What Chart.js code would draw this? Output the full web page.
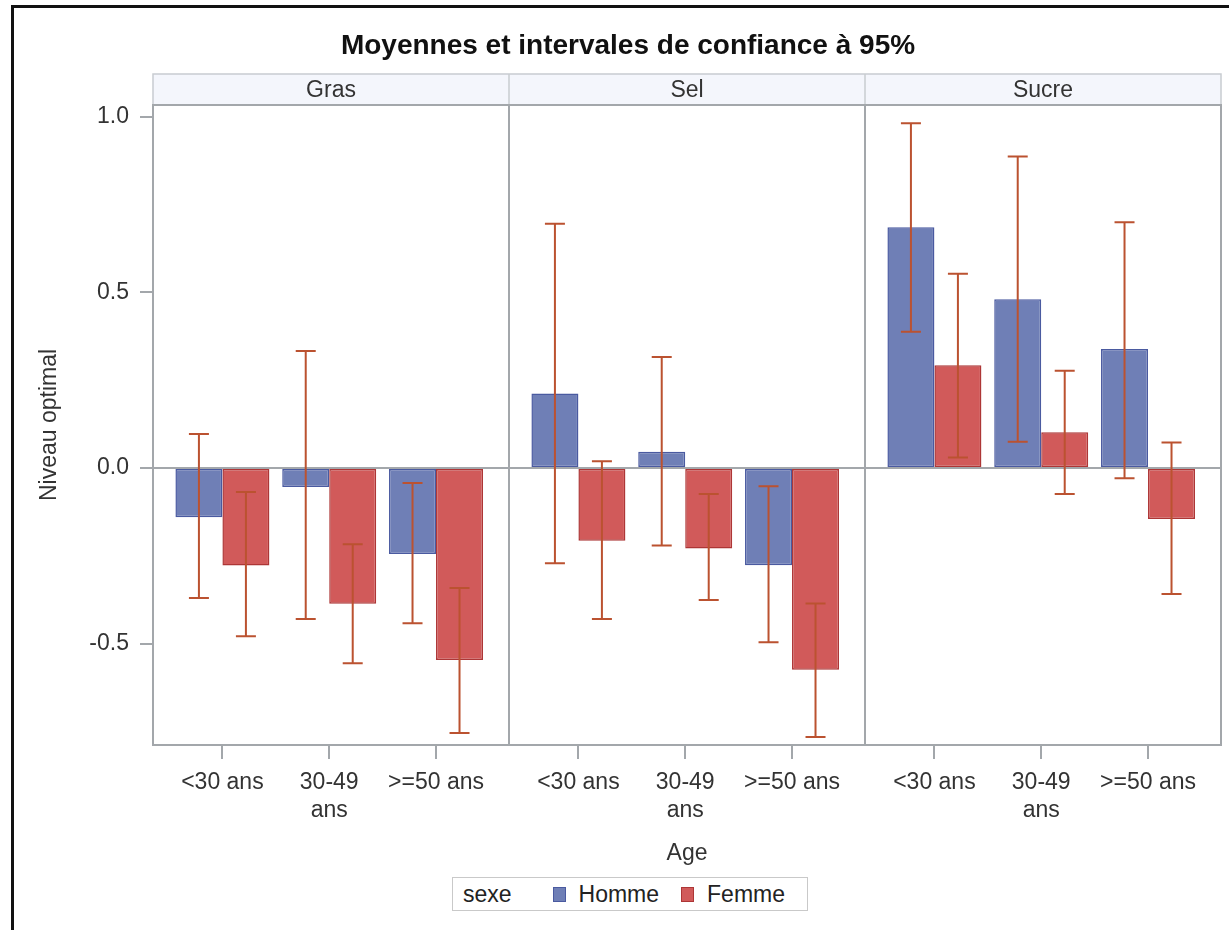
<!DOCTYPE html>
<html lang="fr">
<head>
<meta charset="utf-8">
<title>Moyennes et intervales de confiance à 95%</title>
<script src="https://cdn.jsdelivr.net/npm/chart.js@4.4.1/dist/chart.umd.min.js"></script>
<style>
  html, body { margin: 0; padding: 0; background: #fff; }
  #wrap { position: relative; width: 1229px; height: 930px; overflow: hidden; }
  #frame { position: absolute; left: 11px; top: 5px; width: 1300px; height: 1000px;
           border-left: 3px solid #111; border-top: 3px solid #111; box-sizing: border-box; }
  canvas { position: absolute; left: 0; top: 0; }
  #legend { position: absolute; left: 452px; top: 877px; height: 34px; width: 356px;
            box-sizing: border-box; border: 1px solid #c9c9c9; background: #fff;
            display: flex; align-items: center; font-family: "Liberation Sans", Arial, sans-serif;
            font-size: 23px; color: #222; }
  #legend .title { margin-left: 10px; margin-right: 41px; }
  #legend .sw { width: 15px; height: 15px; box-sizing: border-box; border: 1.5px solid; margin-right: 13px; }
  #legend .lbl { margin-right: 22px; }
</style>
</head>
<body>
<div id="wrap">
  <div id="frame"></div>
  <canvas id="chart" width="1229" height="930"></canvas>
  <div id="legend"></div>
</div>
<script>
// Panels (nutrient) and age groups
const panels = ['Gras', 'Sel', 'Sucre'];
const ageGroups = ['<30 ans', '30-49 ans', '>=50 ans'];
const ageTickLines = [['<30 ans'], ['30-49', 'ans'], ['>=50 ans']];
const yTicks = [-0.5, 0.0, 0.5, 1.0];

// Means and 95% confidence limits, ordered Gras(3 ages), Sel(3), Sucre(3)
const hommeMoyenne = [-0.140, -0.054, -0.245, 0.212, 0.046, -0.277, 0.686, 0.481, 0.339];
const hommeBasse   = [-0.370, -0.430, -0.442, -0.271, -0.221, -0.496, 0.388, 0.075, -0.029];
const hommeHaute   = [0.097, 0.333, -0.043, 0.696, 0.316, -0.052, 0.982, 0.887, 0.700];
const femmeMoyenne = [-0.278, -0.387, -0.547, -0.207, -0.229, -0.575, 0.293, 0.102, -0.145];
const femmeBasse   = [-0.479, -0.556, -0.755, -0.430, -0.376, -0.766, 0.030, -0.074, -0.359];
const femmeHaute   = [-0.068, -0.217, -0.342, 0.019, -0.074, -0.386, 0.553, 0.277, 0.073];

const FONT = '"Liberation Sans", Arial, sans-serif';
const TEXT = '#333333';
const AXIS_GRAY = '#a3a7ab';

// Each panel occupies one unit of the x scale; age groups sit at 0.2, 0.5, 0.8 inside it
const slotOf = (p, k) => p + 0.195 + 0.3 * k;
const positions = [];
panels.forEach((_, p) => ageGroups.forEach((_, k) => positions.push(slotOf(p, k))));
const toPoints = vals => vals.map((v, i) => ({ x: positions[i], y: v }));

const series = [
  { label: 'Homme', values: hommeMoyenne, low: hommeBasse, high: hommeHaute, fill: '#6f7fb6', line: '#4a5aa0' },
  { label: 'Femme', values: femmeMoyenne, low: femmeBasse, high: femmeHaute, fill: '#d15a5a', line: '#ad3636' }
];

// Confidence-interval whiskers drawn over the bars
const errorBars = {
  id: 'errorBars',
  afterDatasetsDraw(chart) {
    const ctx = chart.ctx, y = chart.scales.y;
    ctx.save();
    ctx.strokeStyle = '#bb5230';
    ctx.lineWidth = 2;
    series.forEach((s, d) => {
      chart.getDatasetMeta(d).data.forEach((bar, i) => {
        const top = y.getPixelForValue(s.high[i]);
        const bot = y.getPixelForValue(s.low[i]);
        ctx.beginPath();
        ctx.moveTo(bar.x, top); ctx.lineTo(bar.x, bot);
        ctx.moveTo(bar.x - 10, top); ctx.lineTo(bar.x + 10, top);
        ctx.moveTo(bar.x - 10, bot); ctx.lineTo(bar.x + 10, bot);
        ctx.stroke();
      });
    });
    ctx.restore();
  }
};

// Panel frame, separators, header strips and the chart title
const panelDecor = {
  id: 'panelDecor',
  afterDraw(chart) {
    const ctx = chart.ctx, a = chart.chartArea, x = chart.scales.x;
    ctx.save();
    // header strips
    const stripTop = a.top - 31;
    ctx.fillStyle = '#f4f6fc';
    ctx.fillRect(a.left, stripTop, a.right - a.left, a.top - stripTop);
    ctx.strokeStyle = '#c8ccd1';
    ctx.lineWidth = 1.5;
    ctx.strokeRect(a.left, stripTop, a.right - a.left, a.top - stripTop);
    ctx.font = '23px ' + FONT;
    ctx.fillStyle = TEXT;
    ctx.textAlign = 'center';
    ctx.textBaseline = 'middle';
    panels.forEach((name, p) => {
      const l = x.getPixelForValue(p), r = x.getPixelForValue(p + 1);
      if (p > 0) {
        ctx.beginPath(); ctx.moveTo(l, stripTop); ctx.lineTo(l, a.top); ctx.stroke();
      }
      ctx.fillText(name, (l + r) / 2, (stripTop + a.top) / 2 + 1);
    });
    // plot frame and panel separators
    ctx.strokeStyle = AXIS_GRAY;
    ctx.lineWidth = 2;
    ctx.strokeRect(a.left, a.top, a.right - a.left, a.bottom - a.top);
    for (let p = 1; p < panels.length; p++) {
      const px = x.getPixelForValue(p);
      ctx.beginPath(); ctx.moveTo(px, a.top); ctx.lineTo(px, a.bottom); ctx.stroke();
    }
    // title
    ctx.font = 'bold 28px ' + FONT;
    ctx.fillStyle = '#111';
    ctx.fillText('Moyennes et intervales de confiance à 95%', 628, 46);
    ctx.restore();
  }
};

const chart = new Chart(document.getElementById('chart'), {
  type: 'bar',
  data: {
    datasets: series.map(s => ({
      label: s.label,
      data: toPoints(s.values),
      backgroundColor: s.fill,
      borderColor: s.line,
      borderWidth: 1.5,
      borderSkipped: false,
      categoryPercentage: 0.88,
      barPercentage: 1.0
    }))
  },
  options: {
    responsive: false,
    animation: false,
    layout: { padding: { top: 105, right: 8, bottom: 63, left: 0 } },
    plugins: { legend: { display: false }, title: { display: false }, tooltip: { enabled: false } },
    scales: {
      x: {
        type: 'linear',
        min: 0,
        max: panels.length,
        offset: false,
        afterBuildTicks: s => { s.ticks = positions.map(v => ({ value: v })); },
        afterFit: s => { s.height = 122; },
        border: { display: false },
        grid: { offset: false, drawOnChartArea: false, drawTicks: true, tickLength: 14, tickColor: AXIS_GRAY, lineWidth: 2 },
        ticks: {
          autoSkip: false, maxRotation: 0, padding: 10,
          color: TEXT, font: { family: FONT, size: 23, lineHeight: 1.22 },
          callback: (v, i) => ageTickLines[i % ageGroups.length]
        },
        title: { display: true, text: 'Age', color: TEXT, font: { family: FONT, size: 23 }, padding: 0 }
      },
      y: {
        min: -0.789,
        max: 1.034,
        afterBuildTicks: s => { s.ticks = yTicks.map(v => ({ value: v })); },
        afterFit: s => { s.width = 153; },
        border: { display: false },
        grid: {
          drawTicks: true, tickLength: 13, tickColor: AXIS_GRAY, lineWidth: 2,
          color: c => (c.tick && c.tick.value === 0 ? AXIS_GRAY : 'rgba(0,0,0,0)')
        },
        ticks: {
          padding: 11, color: TEXT, font: { family: FONT, size: 23 },
          callback: v => Number(v).toFixed(1)
        },
        title: { display: true, text: 'Niveau optimal', color: TEXT, font: { family: FONT, size: 23 }, padding: { top: 36, bottom: 0 } }
      }
    }
  },
  plugins: [errorBars, panelDecor]
});

// Legend box built from the dataset labels and colours
const legend = document.getElementById('legend');
const t = document.createElement('span');
t.className = 'title'; t.textContent = 'sexe';
legend.appendChild(t);
series.forEach(s => {
  const sw = document.createElement('span');
  sw.className = 'sw'; sw.style.background = s.fill; sw.style.borderColor = s.line;
  const lb = document.createElement('span');
  lb.className = 'lbl'; lb.textContent = s.label;
  legend.appendChild(sw); legend.appendChild(lb);
});
</script>
</body>
</html>
